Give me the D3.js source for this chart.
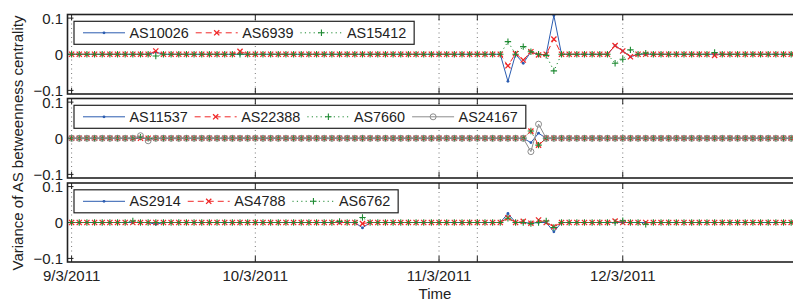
<!DOCTYPE html>
<html><head><meta charset="utf-8">
<script src="https://cdn.jsdelivr.net/npm/d3@7"></script>
<style>body{margin:0;background:#fff}svg text{font-family:"Liberation Sans",Arial,Helvetica,sans-serif;fill:#222}</style>
</head><body><svg id="c" width="793" height="306"></svg>
<script>
// ---- data (index = sample number; ticks at sample positions) ----
const tickIdx = [0, 24, 48, 53, 72];
const tickLabels = ["9/3/2011", "10/3/2011", "11/3/2011", "", "12/3/2011"];
const yTicks = [-0.1, 0, 0.1];
const yTickLabels = ["\u22120.1", "0", "0.1"];
const xTitle = "Time";
const yTitle = "Variance of AS betweenness centrality";

const names1 = ["AS10026", "AS6939", "AS15412"];
const as10026 = [
 0,0,0,0,0,0, 0,0,0,0,0,0.006, 0,0,0,0,0,0, 0,0,0,0,0,0,
 0,0,0,0,0,0, 0,0,0,0,0,0, 0,0,0,0,0,0, 0,0,0,0,0,0,
 0,0,0,0,0,0, 0,0,0,-0.075,0,-0.025, 0.007,-0.002,0,0.107,0,0, 0,0,0,0,0,0.024,
 0.009,-0.007,0,0,0,0, 0,0,0,0,0,0, 0,0,0,0,0,0, 0,0,0,0,0,0, 0];
const as6939 = [
 0,0,0,0,0,0, 0,0,0,0,0,0.009, 0,0,0,0,0,0, 0,0,0,0,0.008,0,
 0,0,0,0,0,0, 0,0,0,0,0,0, 0,0,0,0,0,0, 0,0,0,0,0,0,
 0,0,0,0,0,0, 0,0,0,-0.032,0.002,-0.016, 0.007,-0.002,0,0.042,0,0, 0,0,0,0,0,0.024,
 0.009,-0.007,0,0,0,0, 0,0,0,0,0,0, -0.003,0,0,0,0,0, 0,0,0,0,0,0, 0];
const as15412 = [
 0,0,0,0,0,0, 0,0,0,0,0,-0.005, 0,0,0,0,0,0, 0,0,0,0,0,0,
 0,0,0,0,0,0, 0,0,0,0,0,0, 0,0,0,0,0,0, 0,0,0,0,0,0,
 0,0,0,0,0,0, 0,0,0,0.035,0,0.021, 0.007,0,-0.003,-0.046,0,0, 0,0,0,0,0,-0.025,
 -0.014,0.012,0,0.003,0,0, 0,0,0,0,0,0, 0.005,0,0,0,0,0, 0,0,0,0,0,0, 0];

const names2 = ["AS11537", "AS22388", "AS7660", "AS24167"];
const as11537 = [
 0,0,0,0,0,0, 0,0,0,0,0,0, 0,0,0,0,0,0, 0,0,0,0,0,0,
 0,0,0,0,0,0, 0,0,0,0,0,0, 0,0,0,0,0,0, 0,0,0,0,0,0,
 0,0,0,0,0,0, 0,0,0,0,0,0, -0.012,0.014,0,0,0,0, 0,0,0,0,0,0,
 0,0,0,0,0,0, 0,0,0,0,0,0, 0,0,0,0,0,0, 0,0,0,0,0,0, 0];
const as22388 = [
 0,0,0,0,0,0, 0,0,0,0,0,0, 0,0,0,0,0,0, 0,0,0,0,0,0,
 0,0,0,0,0,0, 0,0,0,0,0,0, 0,0,0,0,0,0, 0,0,0,0,0,0,
 0,0,0,0,0,0, 0,0,0,0,0,0, 0.02,-0.019,0,0,0,0, 0,0,0,0,0,0,
 0,0,0,0,0,0, 0,0,0,0,0,0, 0,0,0,0,0,0, 0,0,0,0,0,0, 0];
const as7660 = [
 0,0,0,0,0,0, 0,0,0,0.003,0,0, 0,0,0,0,0,0, 0,0,0,0,0,0,
 0,0,0,0,0,0, 0,0,0,0,0,0, 0,0,0,0,0,0, 0,0,0,0,0,0,
 0,0,0,0,0,0, 0,0,0,0,0,0, 0.02,-0.019,0,0,0,0, 0,0,0,0,0,0,
 0,0,0,0,0,0, 0,0,0,0,0,0, 0,0,0,0,0,0, 0,0,0,0,0,0, 0];
const as24167 = [
 0,0,0,0,0,0, 0,0,0,0.007,-0.007,0, 0,0,0,0,0,0, 0,0,0,0,0,0,
 0,0,0,0,0,0, 0,0,0,0,0,0, 0,0,0,0,0,0, 0,0,0,0,0,0,
 0,0,0,0,0,0, 0,0,0,0,0,0, -0.037,0.039,0,0,0,0, 0,0,0,0,0,0,
 0,0,0,0,0,0, 0,0,0,0,0,0, 0,0,0,0,0,0, 0,0,0,0,0,0, 0];

const names3 = ["AS2914", "AS4788", "AS6762"];
const as2914 = [
 0,0,0,0,0,0, 0,0,0,0,0,-0.005, 0,0,0,0,0,0, 0,0,0,0,0,0,
 0,0,0,0,0,0, 0,0,0,0,0,0, 0,0,-0.015,0,0,0, 0,0,0,0,0,0,
 0,0,0,0,0,0, 0,0,0,0.025,0,0, -0.002,0,0,-0.026,0,0, 0,0,0,0,0,0,
 0,0,0,0,0,0, 0,0,0,0,0,0, 0,0,0,0,0,0, 0,0,0,0,0,0, 0];
const as4788 = [
 0,0,0,0,0,0, 0,0,0,0,0,0, 0,0,0,0,0,0, 0,0,0,0,0,0,
 0,0,0,0,0,0, 0,0,0,0,0,0, 0,0,-0.003,0,0,0, 0,0,0,0,0,0,
 0,0,0,0,0,0, 0,0,0,0.013,0,0.003, -0.002,0.007,0,-0.012,0,0, 0,0,0,0,0,0.004,
 0,0,0,0,0,0, 0,0,0,0,0,0, 0,0,0,0,0,0, 0,0,0,0,0,0, 0];
const as6762 = [
 0,0,0,0,0,0, 0,0,0.004,0,0,0, 0,0,0,0,0,0, 0,0,0,0,0,0,
 0,0,0,0,0,0, 0,0,0,0,0,0.003, 0,0,0.014,0,0,0, 0,0,0,0,0,0,
 0,0,0,0,0,0, 0,0,0,0.012,0,0, -0.003,0,0.004,-0.014,0,0, 0,0,0,0,0,0,
 0.005,0,0,-0.005,0,0, 0,0,0,0,0,0, 0,0,0,0,0,0, 0,0,0,0,0,0, 0];

// ---- styles ----
const ST = {
  blue:  {color:"#2b5cb0", dash:null,  marker:"dot"},
  red:   {color:"#f02828", dash:"6,4", marker:"x"},
  green: {color:"#1f8a33", dash:"1.2,3.2", marker:"plus"},
  gray:  {color:"#8c8c8c", dash:null,  marker:"circle"}
};
const panels = [
  {top:14.5, bottom:94,  series:[[names1[0],as10026,"blue"],[names1[1],as6939,"red"],[names1[2],as15412,"green"]]},
  {top:98.5, bottom:178, series:[[names2[0],as11537,"blue"],[names2[1],as22388,"red"],[names2[2],as7660,"green"],[names2[3],as24167,"gray"]]},
  {top:183,  bottom:262, series:[[names3[0],as2914,"blue"],[names3[1],as4788,"red"],[names3[2],as6762,"green"]]}
];
panels.forEach(p=>p.series.forEach(s=>{ if(s[1].length!==97) console.error("len",s[0],s[1].length); }));

const svg = d3.select("#c");
const left = 67.5, pxPer = 7.655, i0x = 71.6;
const x = d3.scaleLinear().domain([-0.55, 97]).range([i0x - 0.55*pxPer, i0x + 97*pxPer]);
const right = x(97);

function drawMarker(g, type, cx, cy, color){
  if(type==="dot"){
    g.append("circle").attr("cx",cx).attr("cy",cy).attr("r",1.4).attr("fill",color);
  } else if(type==="x"){
    const h=2.6;
    g.append("path").attr("d",`M${cx-h},${cy-h}L${cx+h},${cy+h}M${cx-h},${cy+h}L${cx+h},${cy-h}`)
      .attr("stroke",color).attr("stroke-width",1.3).attr("fill","none");
  } else if(type==="plus"){
    const h=3.2;
    g.append("path").attr("d",`M${cx-h},${cy}L${cx+h},${cy}M${cx},${cy-h}L${cx},${cy+h}`)
      .attr("stroke",color).attr("stroke-width",1.1).attr("fill","none");
  } else if(type==="circle"){
    g.append("circle").attr("cx",cx).attr("cy",cy).attr("r",3).attr("fill","none")
      .attr("stroke",color).attr("stroke-width",1);
  }
}

panels.forEach((p,pi)=>{
  const y = d3.scaleLinear().domain([-0.11,0.11]).range([p.bottom,p.top]);
  const g = svg.append("g");
  const cid = "clip"+pi;
  svg.append("clipPath").attr("id",cid).append("rect")
    .attr("x",left).attr("y",p.top).attr("width",right-left).attr("height",p.bottom-p.top);
  // grid
  tickIdx.forEach(t=>{
    g.append("line").attr("x1",x(t)).attr("x2",x(t)).attr("y1",p.top).attr("y2",p.bottom)
      .attr("stroke","#555").attr("stroke-width",0.8).attr("stroke-dasharray","1,3.5");
    g.append("line").attr("x1",x(t)).attr("x2",x(t)).attr("y1",p.top).attr("y2",p.top+6)
      .attr("stroke","#222").attr("stroke-width",1);
    g.append("line").attr("x1",x(t)).attr("x2",x(t)).attr("y1",p.bottom-6).attr("y2",p.bottom)
      .attr("stroke","#222").attr("stroke-width",1);
  });
  yTicks.forEach((v,k)=>{
    g.append("line").attr("x1",left).attr("x2",left+6).attr("y1",y(v)).attr("y2",y(v))
      .attr("stroke","#222").attr("stroke-width",1);
    g.append("text").attr("x",63).attr("y",y(v)).attr("dy","0.36em")
      .attr("text-anchor","end").attr("font-size",15).text(yTickLabels[k]);
  });
  // data
  const dg = g.append("g").attr("clip-path",`url(#${cid})`);
  const line = d3.line().x((d,i)=>x(i)).y(d=>y(d));
  p.series.forEach(([name,vals,sk])=>{
    const st = ST[sk];
    dg.append("path").datum(vals).attr("d",line).attr("fill","none")
      .attr("stroke",st.color).attr("stroke-width",1)
      .attr("stroke-dasharray",st.dash);
    const mg = dg.append("g");
    vals.forEach((v,i)=>drawMarker(mg, st.marker, x(i), y(v), st.color));
  });
  // frame
  g.append("rect").attr("x",left).attr("y",p.top).attr("width",right-left).attr("height",p.bottom-p.top)
    .attr("fill","none").attr("stroke","#222").attr("stroke-width",1.6);
  // legend
  const lg = g.append("g");
  const ly = p.top + 6.8, lh = 23, cy = ly + lh/2;
  const box = lg.append("rect").attr("x",74).attr("y",ly).attr("height",lh)
    .attr("fill","#fff").attr("stroke","#222").attr("stroke-width",1.2);
  let cx = 83, lastEnd = 0;
  p.series.forEach(([name,vals,sk])=>{
    const st = ST[sk];
    lg.append("line").attr("x1",cx).attr("x2",cx+42).attr("y1",cy).attr("y2",cy)
      .attr("stroke",st.color).attr("stroke-width",1).attr("stroke-dasharray",st.dash);
    drawMarker(lg, st.marker, cx+21, cy, st.color);
    const t = lg.append("text").attr("x",cx+46.5).attr("y",cy).attr("dy","0.36em")
      .attr("font-size",14.4).text(name);
    lastEnd = cx + 46.5 + t.node().getComputedTextLength();
    cx = lastEnd + 7;
  });
  box.attr("width", lastEnd + 8 - 74);
});

// x tick labels
tickIdx.forEach((t,k)=>{
  if(!tickLabels[k]) return;
  svg.append("text").attr("x",x(t)).attr("y",281).attr("text-anchor","middle")
    .attr("font-size",15).text(tickLabels[k]);
});
svg.append("text").attr("x",435).attr("y",299).attr("text-anchor","middle")
  .attr("font-size",15).text(xTitle);
svg.append("text").attr("transform","translate(22.5,143) rotate(-90)").attr("text-anchor","middle")
  .attr("font-size",15).text(yTitle);
</script></body></html>
